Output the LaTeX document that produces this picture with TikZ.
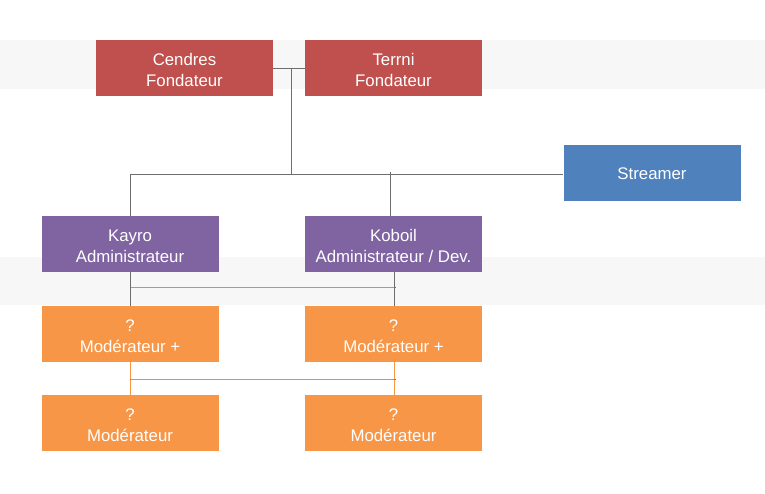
\documentclass[tikz,border=0pt]{standalone}
\usepackage{fontspec}
\setmainfont{Liberation Sans}
\definecolor{band}{HTML}{F7F7F7}
\definecolor{cred}{HTML}{C0504D}
\definecolor{cblue}{HTML}{4F81BD}
\definecolor{cpurple}{HTML}{8064A2}
\definecolor{corange}{HTML}{F79646}
\definecolor{cline}{HTML}{6E6E6E}
\newcommand\twol[2]{\raisebox{-4pt}[\height][\depth]{\begin{tabular}{@{}c@{}}#1\\#2\end{tabular}}}
\begin{document}
\begin{tikzpicture}[x=1pt,y=-1pt,
  box/.style={draw=none,minimum width=177pt,minimum height=56pt,inner sep=0pt,
    text=white,font=\fontsize{16.8}{20.5}\selectfont},
  conn/.style={draw=cline,line width=0.9pt}]
\useasboundingbox[fill=white] (0,0) rectangle (765,494);
\fill[band] (0,40) rectangle (765,89);
\fill[band] (0,257) rectangle (765,305);
% boxes
\node[box,fill=cred] (cendres) at (184.5,68) {\twol{Cendres}{Fondateur}};
\node[box,fill=cred] (terrni) at (393.5,68) {\twol{Terrni}{Fondateur}};
\node[box,fill=cblue] (streamer) at (652,173.5) {Streamer};
\node[box,fill=cpurple] (kayro) at (130,244) {\twol{Kayro}{Administrateur}};
\node[box,fill=cpurple] (koboil) at (393.5,244) {\twol{Koboil}{Administrateur / Dev.}};
\node[box,fill=corange] (modpl) at (130,334) {\twol{?}{Modérateur +}};
\node[box,fill=corange] (modpr) at (393.5,334) {\twol{?}{Modérateur +}};
\node[box,fill=corange] (modl) at (130,423) {\twol{?}{Modérateur}};
\node[box,fill=corange] (modr) at (393.5,423) {\twol{?}{Modérateur}};
% coordinates
\coordinate (top) at (291,68);
\coordinate (mid) at (291,174);
\coordinate (kbtop) at (390,216);
\coordinate (kbbot) at (394.5,272);
\coordinate (mpbot) at (394.5,362);
% connectors
\draw[conn] (cendres.east) -- (terrni.west);
\draw[conn] (top) -- (mid);
\draw[conn] (kayro.north |- mid) -- (streamer.west |- mid);
\draw[conn] (kayro.north |- mid) -- (kayro.north);
\draw[conn] (kbtop |- 0,172) -- (kbtop);
\draw[conn] (kayro.south) -- (modpl.north);
\draw[conn] (kbbot) -- (kbbot |- modpr.north);
\draw[conn] (kayro.south |- 0,287) -- (kbbot |- 0,287) -- ++(1,0);
\draw[draw=corange,line width=0.9pt] (modpl.south) -- (modl.north);
\draw[draw=corange,line width=0.9pt] (mpbot) -- (mpbot |- modr.north);
\draw[conn] (modpl.south |- 0,379) -- (mpbot |- 0,379) -- ++(1,0);
\end{tikzpicture}
\end{document}
